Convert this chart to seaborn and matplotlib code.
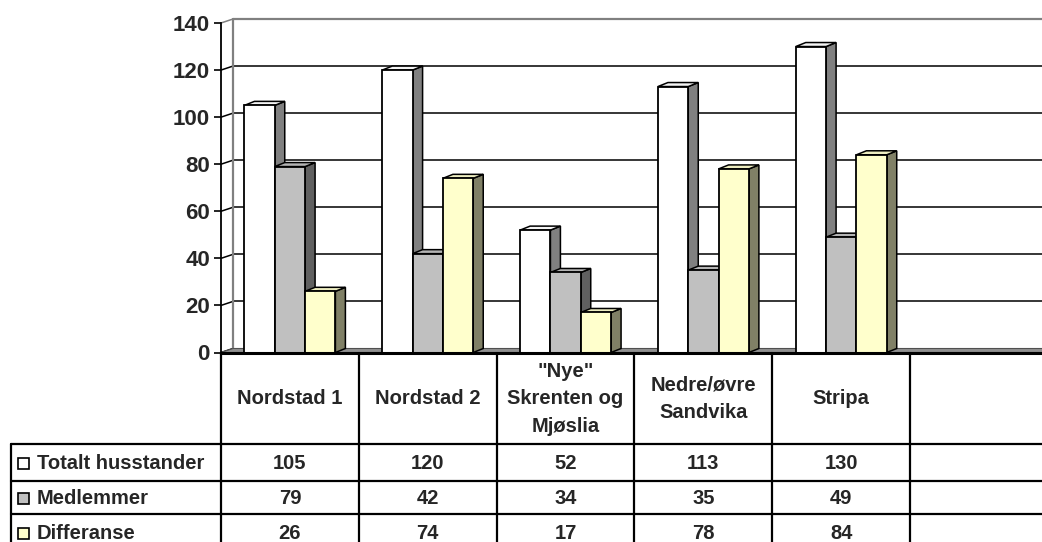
import numpy as np
import pandas as pd
import seaborn as sns
import matplotlib
matplotlib.use("Agg")
import matplotlib.pyplot as plt
from matplotlib.patches import Polygon, Rectangle
from matplotlib.lines import Line2D
import matplotlib.transforms as mtransforms

# ---------------- data ----------------
categories = ['Nordstad 1', 'Nordstad 2', '"Nye"\nSkrenten og\nMjøslia',
              'Nedre/øvre\nSandvika', 'Stripa']
series = ['Totalt husstander', 'Medlemmer', 'Differanse']
totalt = [105, 120, 52, 113, 130]
medlemmer = [79, 42, 34, 35, 49]
differanse = [26, 74, 17, 78, 84]
y_ticks = [0, 20, 40, 60, 80, 100, 120, 140]

values = {'Totalt husstander': totalt, 'Medlemmer': medlemmer, 'Differanse': differanse}
front_colors = ['#FFFFFF', '#C0C0C0', '#FFFFCC']
side_colors = ['#808080', '#606060', '#808066']
top_colors = ['#F4F4F4', '#B4B4B4', '#EDEDC0']

df = pd.DataFrame([(c, s, v) for s in series for c, v in zip(categories, values[s])],
                  columns=['cat', 'series', 'value'])

# ---------------- figure ----------------
sns.set_theme(style='white')
plt.rcParams['font.family'] = ['Liberation Sans', 'DejaVu Sans']
plt.rcParams['font.weight'] = 'bold'

W, H = 1042, 542
fig = plt.figure(figsize=(W / 100, H / 100), dpi=100)
x_left, x_right = 221, 1048
y_top, y_bot = 23, 352.5
ax = fig.add_axes([x_left / W, 1 - y_bot / H, (x_right - x_left) / W, (y_bot - y_top) / H])

sns.barplot(data=df, x='cat', y='value', hue='series', order=categories,
            hue_order=series, palette=front_colors, saturation=1, width=0.66,
            edgecolor='black', linewidth=1.3, legend=False, ax=ax)

ax.set_xlim(-0.5, 5.5)
ax.set_ylim(0, 140)
ax.set_xlabel('')
ax.set_ylabel('')
ax.set_xticks([])
ax.set_yticks(y_ticks)
ax.set_yticklabels([str(t) for t in y_ticks], fontsize=16, fontweight='bold')
ax.tick_params(axis='y', direction='out', length=5, width=1.2, color='black', pad=3, left=True)
for side in ['top', 'right']:
    ax.spines[side].set_visible(False)
ax.spines['left'].set_color('black')
ax.spines['left'].set_linewidth(1.3)
ax.spines['bottom'].set_color('black')
ax.spines['bottom'].set_linewidth(2.2)
ax.spines['bottom'].set_zorder(50)
ax.set_facecolor('none')
ax.grid(False)

ppx = (x_right - x_left) / 6.0
ppy = (y_bot - y_top) / 140.0
dxw, dyw = 12 / ppx, 4 / ppy     # back wall offset
dxb, dyb = 10 / ppx, 4 / ppy     # bar depth

# back wall grid
for v in y_ticks[1:]:
    col = '#808080' if v == 140 else 'black'
    lw = 1.6 if v == 140 else 1.1
    ax.add_line(Line2D([-0.5 + dxw, 5.5 + dxw], [v + dyw, v + dyw], color=col, lw=lw,
                       zorder=0.5, clip_on=False))
for v in y_ticks:
    ax.add_line(Line2D([-0.5, -0.5 + dxw], [v, v + dyw], color='black' if v < 140 else '#808080',
                       lw=1.1, zorder=0.6, clip_on=False))
ax.add_line(Line2D([-0.5 + dxw, -0.5 + dxw], [dyw, 140 + dyw], color='#808080', lw=1.6,
                   zorder=0.6, clip_on=False))
# floor
ax.add_patch(Polygon([(-0.5, 0), (-0.5 + dxw, dyw), (5.5 + dxw, dyw), (5.5, 0)],
                     closed=True, facecolor='#909090', edgecolor='#505050', lw=0.8,
                     zorder=0.7, clip_on=False))

# 3D faces of the bars
bars = sorted([p for p in ax.patches if isinstance(p, Rectangle) and p.get_height() > 0],
              key=lambda p: p.get_x())
fc_map = {tuple(np.round(matplotlib.colors.to_rgba(c), 3)): i for i, c in enumerate(front_colors)}
for i, p in enumerate(bars):
    x0 = p.get_x()
    x1 = x0 + p.get_width()
    h = p.get_height()
    k = fc_map.get(tuple(np.round(p.get_facecolor(), 3)), 0)
    base = 2 + 3 * i
    ax.add_patch(Polygon([(x1, 0), (x1 + dxb, dyb), (x1 + dxb, h + dyb), (x1, h)], closed=True,
                         facecolor=side_colors[k], edgecolor='black', lw=1.1, zorder=base,
                         clip_on=False))
    ax.add_patch(Polygon([(x0, h), (x0 + dxb, h + dyb), (x1 + dxb, h + dyb), (x1, h)], closed=True,
                         facecolor=top_colors[k], edgecolor='black', lw=1.1, zorder=base + 0.5,
                         clip_on=False))
    p.set_zorder(base + 1)

# ---------------- data table ----------------
tpx = mtransforms.Affine2D().scale(1 / W, -1 / H).translate(0, 1) + fig.transFigure
tblend = mtransforms.blended_transform_factory(ax.transData, tpx)

tlw = 1.6
for j in range(7):
    xv = -0.5 + j
    fig.add_artist(Line2D([xv, xv], [352.5, 545], transform=tblend, color='black', lw=tlw))
for yv in [443.5, 480.5, 513.5]:
    fig.add_artist(Line2D([11, 1042], [yv, yv], transform=tpx, color='black', lw=tlw))
fig.add_artist(Line2D([11, 11], [443.5, 545], transform=tpx, color='black', lw=tlw))

fs = 14.5
for j, c in enumerate(categories):
    fig.text(j, 399, c, transform=tblend, ha='center', va='center', fontsize=fs,
             fontweight='bold', linespacing=1.55, multialignment='center')

row_y = [463.5, 498.5, 533.5]
for r, s in enumerate(series):
    fig.add_artist(Rectangle((17.5, row_y[r] - 5.5), 11, 11, transform=tpx,
                             facecolor=front_colors[r], edgecolor='black', lw=1.2))
    fig.text(37, row_y[r], s, transform=tpx, ha='left', va='center', fontsize=fs,
             fontweight='bold')
    for j, v in enumerate(values[s]):
        fig.text(j, row_y[r], str(v), transform=tblend, ha='center', va='center',
                 fontsize=fs, fontweight='bold')

fig.savefig('out.png', dpi=100, facecolor='white')
